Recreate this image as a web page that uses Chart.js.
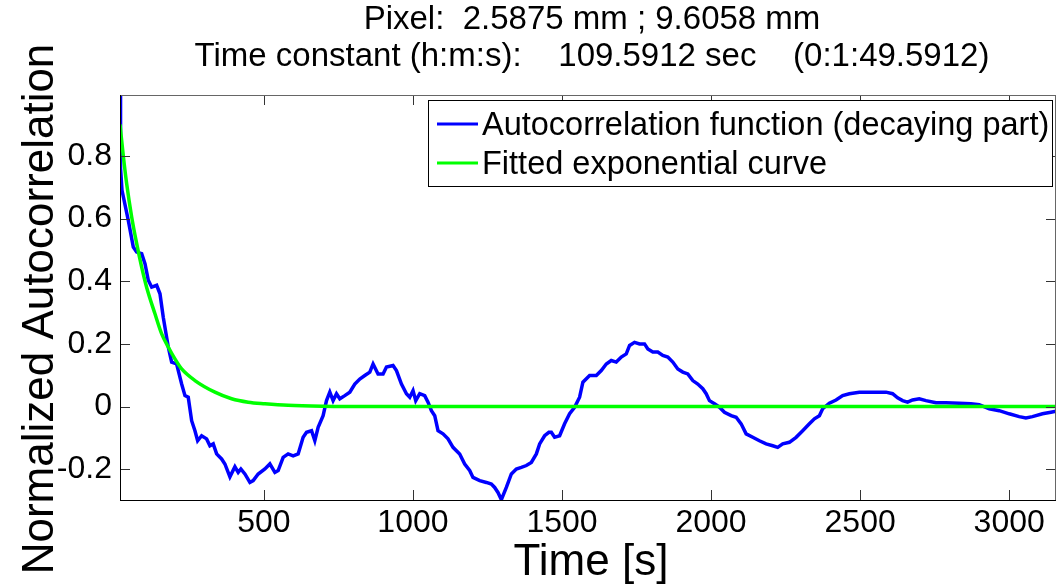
<!DOCTYPE html>
<html>
<head>
<meta charset="utf-8">
<script src="https://cdn.jsdelivr.net/npm/chart.js@4.4.1/dist/chart.umd.min.js"></script>
<style>
html, body { margin: 0; padding: 0; background: #fff; }
#wrap { position: relative; width: 1057px; height: 585px; }
</style>
</head>
<body>
<div id="wrap"><canvas id="acf"></canvas></div>
<script>
// ---- texts ----
const titleLines = ['Pixel:  2.5875 mm ; 9.6058 mm', 'Time constant (h:m:s):    109.5912 sec    (0:1:49.5912)'];
const xLabel = 'Time [s]';
const yLabel = 'Normalized Autocorrelation';
const seriesNames = ['Autocorrelation function (decaying part)', 'Fitted exponential curve'];

// ---- ticks ----
const xTickValues = [500, 1000, 1500, 2000, 2500, 3000];
const yTickValues = [-0.2, 0, 0.2, 0.4, 0.6, 0.8];

// ---- autocorrelation ----
const acTime = [17.4, 18.6, 19.8, 24.1, 45.2, 62.0, 73.4, 90.1, 101.2, 112.3, 123.7, 140.4, 151.5, 162.5, 179.3, 190.7,
  207.4, 224.2, 235.3, 246.3, 257.7, 268.8, 277.8, 291.2, 308.0, 319.0, 330.1, 341.5, 358.2, 369.3, 386.1, 402.8,
  413.9, 422.9, 436.3, 453.1, 464.1, 480.9, 503.4, 520.1, 536.9, 547.9, 564.7, 581.4, 598.2, 615.0, 631.7, 643.1,
  659.9, 670.9, 682.0, 698.7, 710.1, 721.2, 732.2, 743.6, 754.7, 771.4, 788.2, 805.0, 821.7, 838.5, 855.3, 866.3,
  883.0, 899.8, 911.2, 933.3, 944.7, 961.5, 978.2, 989.3, 1000.3, 1009.4, 1022.8, 1039.5, 1050.6, 1062.0, 1073.1,
  1084.1, 1100.9, 1117.6, 1134.4, 1156.8, 1173.6, 1190.3, 1201.4, 1223.9, 1246.3, 1263.1, 1274.1, 1285.2, 1296.6,
  1313.3, 1330.1, 1346.8, 1363.6, 1380.4, 1397.1, 1413.9, 1425.0, 1441.7, 1456.1, 1464.2, 1475.2, 1492.0, 1508.7,
  1525.5, 1542.2, 1559.0, 1570.1, 1592.6, 1615.0, 1631.7, 1648.5, 1665.3, 1682.0, 1698.8, 1715.5, 1726.7, 1743.3,
  1760.1, 1776.8, 1787.9, 1804.6, 1821.4, 1838.1, 1854.9, 1871.6, 1888.4, 1905.2, 1921.9, 1938.7, 1955.4, 1972.2,
  1983.6, 1994.6, 2011.4, 2028.2, 2044.9, 2067.4, 2084.1, 2100.9, 2117.6, 2139.8, 2162.2, 2184.6, 2206.8, 2223.5,
  2240.3, 2262.7, 2285.2, 2307.3, 2329.8, 2346.6, 2363.3, 2374.3, 2396.8, 2419.2, 2441.4, 2463.9, 2497.3, 2530.8,
  2564.3, 2586.8, 2608.9, 2625.7, 2642.4, 2659.2, 2675.9, 2698.4, 2720.8, 2754.4, 2787.9, 2832.4, 2871.6, 2899.5,
  2933.0, 2966.5, 3000.0, 3033.5, 3056.0, 3078.1, 3111.6, 3139.8, 3157.0];
const acValue = [0.994, 0.86, 0.76, 0.69, 0.594, 0.509, 0.493, 0.488, 0.456, 0.403, 0.381, 0.387, 0.36, 0.285, 0.19, 0.142,
  0.136, 0.072, 0.035, 0.03, -0.045, -0.077, -0.109, -0.093, -0.103, -0.125, -0.119, -0.151, -0.167, -0.183, -0.224, -0.192,
  -0.21, -0.199, -0.215, -0.242, -0.236, -0.215, -0.199, -0.183, -0.21, -0.204, -0.162, -0.151, -0.157, -0.151, -0.098, -0.082,
  -0.077, -0.109, -0.066, -0.029, 0.019, 0.046, 0.019, 0.041, 0.025, 0.035, 0.046, 0.072, 0.088, 0.099, 0.11, 0.136,
  0.104, 0.104, 0.126, 0.131, 0.115, 0.072, 0.041, 0.03, 0.051, 0.019, 0.041, 0.035, 0.014, -0.013, -0.029,
  -0.077, -0.087, -0.103, -0.13, -0.151, -0.183, -0.204, -0.226, -0.236, -0.242, -0.247, -0.258, -0.274, -0.297,
  -0.258, -0.215, -0.199, -0.194, -0.188, -0.178, -0.151, -0.119, -0.093, -0.082, -0.082, -0.098, -0.093, -0.055,
  -0.023, -0.002, 0.03, 0.078, 0.099, 0.099, 0.115, 0.136, 0.147, 0.142, 0.158, 0.168, 0.195, 0.205,
  0.2, 0.2, 0.184, 0.174, 0.174, 0.163, 0.158, 0.142, 0.12, 0.11, 0.104, 0.083, 0.072, 0.057,
  0.041, 0.019, 0.009, -0.002, -0.018, -0.029, -0.034, -0.055, -0.087, -0.098, -0.109, -0.119, -0.125, -0.13,
  -0.119, -0.114, -0.098, -0.077, -0.055, -0.039, -0.029, -0.007, 0.011, 0.021, 0.035, 0.041, 0.046, 0.046,
  0.046, 0.046, 0.041, 0.028, 0.019, 0.014, 0.021, 0.025, 0.019, 0.012, 0.012, 0.011, 0.009, 0.006,
  -0.007, -0.013, -0.023, -0.032, -0.036, -0.032, -0.023, -0.018, -0.015, -0.007];

// ---- fitted exponential ----
const fitTime = [17.4, 28.5, 39.9, 56.6, 73.4, 90.1, 106.9, 134.7, 157.2, 179.3, 201.7, 224.2, 268.8, 335.8, 391.7,
  447.4, 503.4, 581, 700, 850, 3157];
const fitValue = [0.90, 0.80, 0.71, 0.605, 0.52, 0.445, 0.38, 0.296, 0.232, 0.19, 0.152, 0.12, 0.083, 0.046, 0.025,
  0.014, 0.009, 0.004, 0.001, 0, 0];

const FONT = '"Liberation Sans", Arial, sans-serif';

const toPoints = (xs, ys) => xs.map((t, i) => ({ x: t, y: ys[i] }));

// axes frame, inward ticks, titles and legend (MATLAB look)
const matlabFrame = {
    id: 'matlabFrame',
    afterDraw(chart) {
        const { ctx, chartArea: a, scales: { x, y } } = chart;
        ctx.save();

        // tick marks pointing inward on all four sides
        ctx.strokeStyle = '#333';
        ctx.lineWidth = 1;
        ctx.beginPath();
        xTickValues.forEach(v => {
            const px = Math.round(x.getPixelForValue(v)) + 0.5;
            ctx.moveTo(px, a.bottom); ctx.lineTo(px, a.bottom - 10);
            ctx.moveTo(px, a.top); ctx.lineTo(px, a.top + 10);
        });
        yTickValues.forEach(v => {
            const py = Math.round(y.getPixelForValue(v)) + 0.5;
            ctx.moveTo(a.left, py); ctx.lineTo(a.left + 10, py);
            ctx.moveTo(a.right, py); ctx.lineTo(a.right - 10, py);
        });
        ctx.stroke();

        // box
        ctx.strokeStyle = '#666';
        ctx.beginPath();
        ctx.moveTo(a.left, a.top + 0.5); ctx.lineTo(a.right, a.top + 0.5);
        ctx.moveTo(a.right - 0.5, a.top); ctx.lineTo(a.right - 0.5, a.bottom);
        ctx.stroke();
        ctx.strokeStyle = '#000';
        ctx.beginPath();
        ctx.moveTo(a.left + 0.5, a.top); ctx.lineTo(a.left + 0.5, a.bottom + 1);
        ctx.moveTo(a.left, a.bottom + 0.5); ctx.lineTo(a.right, a.bottom + 0.5);
        ctx.stroke();

        // title
        const cx = (a.left + a.right) / 2;
        ctx.fillStyle = '#000';
        ctx.textAlign = 'center';
        ctx.textBaseline = 'alphabetic';
        ctx.font = '33px ' + FONT;
        ctx.fillText(titleLines[0], cx + 4, 29);
        ctx.fillText(titleLines[1], cx + 4, 66);

        // axis labels
        ctx.font = '44px ' + FONT;
        ctx.fillText(xLabel, cx + 3, 575);
        ctx.save();
        ctx.translate(53, 309);
        ctx.rotate(-Math.PI / 2);
        ctx.fillText(yLabel, 0, 0);
        ctx.restore();

        // legend
        const lg = { right: a.right - 3, top: a.top + 5, width: 625, height: 87 };
        const lx = lg.right - lg.width;
        ctx.fillStyle = '#fff';
        ctx.fillRect(lx, lg.top, lg.width, lg.height);
        ctx.strokeStyle = '#000';
        ctx.strokeRect(lx + 0.5, lg.top + 0.5, lg.width - 1, lg.height - 1);
        ctx.textAlign = 'left';
        ctx.font = '32.5px ' + FONT;
        const order = [1, 0];
        order.forEach((di, row) => {
            const ds = chart.data.datasets[di];
            const ly = lg.top + 24 + row * 39;
            ctx.strokeStyle = ds.borderColor;
            ctx.lineWidth = 3;
            ctx.beginPath();
            ctx.moveTo(lx + 9, ly); ctx.lineTo(lx + 50, ly);
            ctx.stroke();
            ctx.fillStyle = '#000';
            ctx.fillText(ds.label, lx + 54, ly + 11);
        });
        ctx.restore();
    }
};

new Chart(document.getElementById('acf'), {
    type: 'line',
    data: {
        datasets: [
            {
                label: seriesNames[1],
                data: toPoints(fitTime, fitValue),
                borderColor: '#00ff00',
                borderWidth: 3.5,
                pointRadius: 0,
                cubicInterpolationMode: 'monotone',
                order: 0
            },
            {
                label: seriesNames[0],
                data: toPoints(acTime, acValue),
                borderColor: '#0000ff',
                borderWidth: 3.5,
                pointRadius: 0,
                tension: 0,
                order: 1
            }
        ]
    },
    options: {
        responsive: true,
        maintainAspectRatio: false,
        animation: false,
        layout: { padding: { top: 95, right: 1, left: 0, bottom: 0 } },
        scales: {
            x: {
                type: 'linear',
                min: 17.4,
                max: 3157,
                afterBuildTicks: s => { s.ticks = xTickValues.map(v => ({ value: v })); },
                afterFit: s => { s.height = 85; },
                ticks: {
                    color: '#000',
                    padding: 4,
                    font: { family: FONT, size: 32 },
                    callback: v => String(v)
                },
                grid: { display: false, drawTicks: false },
                border: { display: false }
            },
            y: {
                type: 'linear',
                min: -0.298,
                max: 0.994,
                afterBuildTicks: s => { s.ticks = yTickValues.map(v => ({ value: v })); },
                afterFit: s => { s.width = 120; },
                ticks: {
                    color: '#000',
                    padding: 8,
                    font: { family: FONT, size: 32 },
                    callback: v => String(Math.round(v * 10) / 10)
                },
                grid: { display: false, drawTicks: false },
                border: { display: false }
            }
        },
        plugins: {
            legend: { display: false },
            tooltip: { enabled: false }
        }
    },
    plugins: [matlabFrame]
});
</script>
</body>
</html>
